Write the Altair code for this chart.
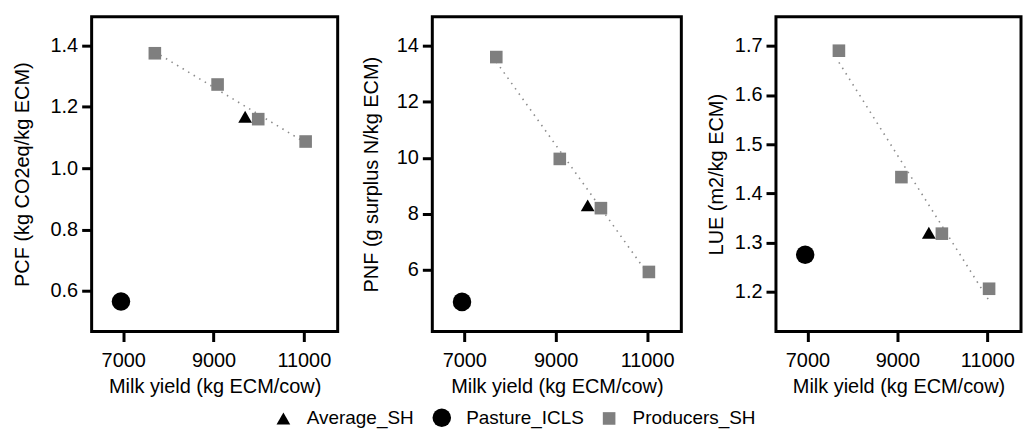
import altair as alt
import pandas as pd

# Milk yield (kg ECM/cow) per farm group
groups = ["Producers_SH", "Producers_SH", "Producers_SH", "Producers_SH", "Average_SH", "Pasture_ICLS"]
milk_yield = [7700, 9090, 9990, 11040, 9700, 6950]

# Indicators per farm group, same order as above
pcf = [1.375, 1.273, 1.160, 1.087, 1.168, 0.565]
pnf = [13.6, 9.96, 8.2, 5.92, 8.3, 4.85]
lue = [1.69, 1.433, 1.318, 1.206, 1.32, 1.275]

legend_order = ["Average_SH", "Pasture_ICLS", "Producers_SH"]
x_ticks = [7000, 9000, 11000]

df = pd.DataFrame({"group": groups, "milk": milk_yield, "PCF": pcf, "PNF": pnf, "LUE": lue})

FONT = "Liberation Sans"

shape_scale = alt.Scale(domain=legend_order, range=["triangle-up", "circle", "square"])
color_scale = alt.Scale(domain=legend_order, range=["#000000", "#000000", "#7f7f7f"])
size_scale = alt.Scale(type="ordinal", domain=legend_order, range=[190, 346, 160])


def panel(field, title, domain, ticks, fmt, width, title_pad):
    x = alt.X("milk:Q", title="Milk yield (kg ECM/cow)",
              scale=alt.Scale(domain=[6300, 11750], nice=False, zero=False),
              axis=alt.Axis(values=x_ticks, format="d"))
    y = alt.Y(f"{field}:Q", title=title,
              scale=alt.Scale(domain=domain, nice=False, zero=False),
              axis=alt.Axis(values=ticks, format=fmt, titlePadding=title_pad))
    trend = (
        alt.Chart(df)
        .transform_filter(alt.datum.group == "Producers_SH")
        .transform_regression("milk", field)
        .mark_line(color="#8c8c8c", strokeDash=[1.5, 5], strokeWidth=1.6)
        .encode(x=x, y=y)
    )
    pts = (
        alt.Chart(df)
        .mark_point(filled=True, opacity=1)
        .encode(
            x=x, y=y,
            shape=alt.Shape("group:N", scale=shape_scale, title=None),
            color=alt.Color("group:N", scale=color_scale, title=None),
            size=alt.Size("group:N", scale=size_scale, title=None),
        )
    )
    return alt.layer(trend, pts).properties(width=width, height=316)


p1 = panel("PCF", "PCF (kg CO2eq/kg ECM)", [0.467, 1.494], [0.6, 0.8, 1.0, 1.2, 1.4], ".1f", 247, 18)
p2 = panel("PNF", "PNF (g surplus N/kg ECM)", [3.79, 15.04], [6, 8, 10, 12, 14], "d", 250, 15)
p3 = panel("LUE", "LUE (m2/kg ECM)", [1.119, 1.759], [1.2, 1.3, 1.4, 1.5, 1.6, 1.7], ".1f", 246, 8)

chart = (
    alt.hconcat(p1, p2, p3, spacing=95, bounds="flush")
    .properties(
        padding={"left": 10, "top": 14, "right": 0, "bottom": 0},
        background="white",
    )
    .configure_view(stroke="#000000", strokeWidth=3)
    .configure_axis(
        domain=False,
        grid=False,
        ticks=True,
        tickColor="#000000",
        tickWidth=3,
        tickSize=10,
        labelFont=FONT,
        labelFontSize=20,
        labelColor="#000000",
        titleFont=FONT,
        titleFontSize=20,
        titleFontWeight="normal",
        titleColor="#000000",
    )
    .configure_axisX(labelPadding=9, titlePadding=6)
    .configure_axisY(labelPadding=4)
    .configure_legend(
        orient="none",
        legendX=183,
        legendY=392,
        direction="horizontal",
        labelFont=FONT,
        labelFontSize=19,
        labelColor="#000000",
        labelOffset=14,
        columnPadding=15,
        symbolOpacity=1,
    )
)

chart.save("out.html", embed_options={"renderer": "svg", "actions": False})
